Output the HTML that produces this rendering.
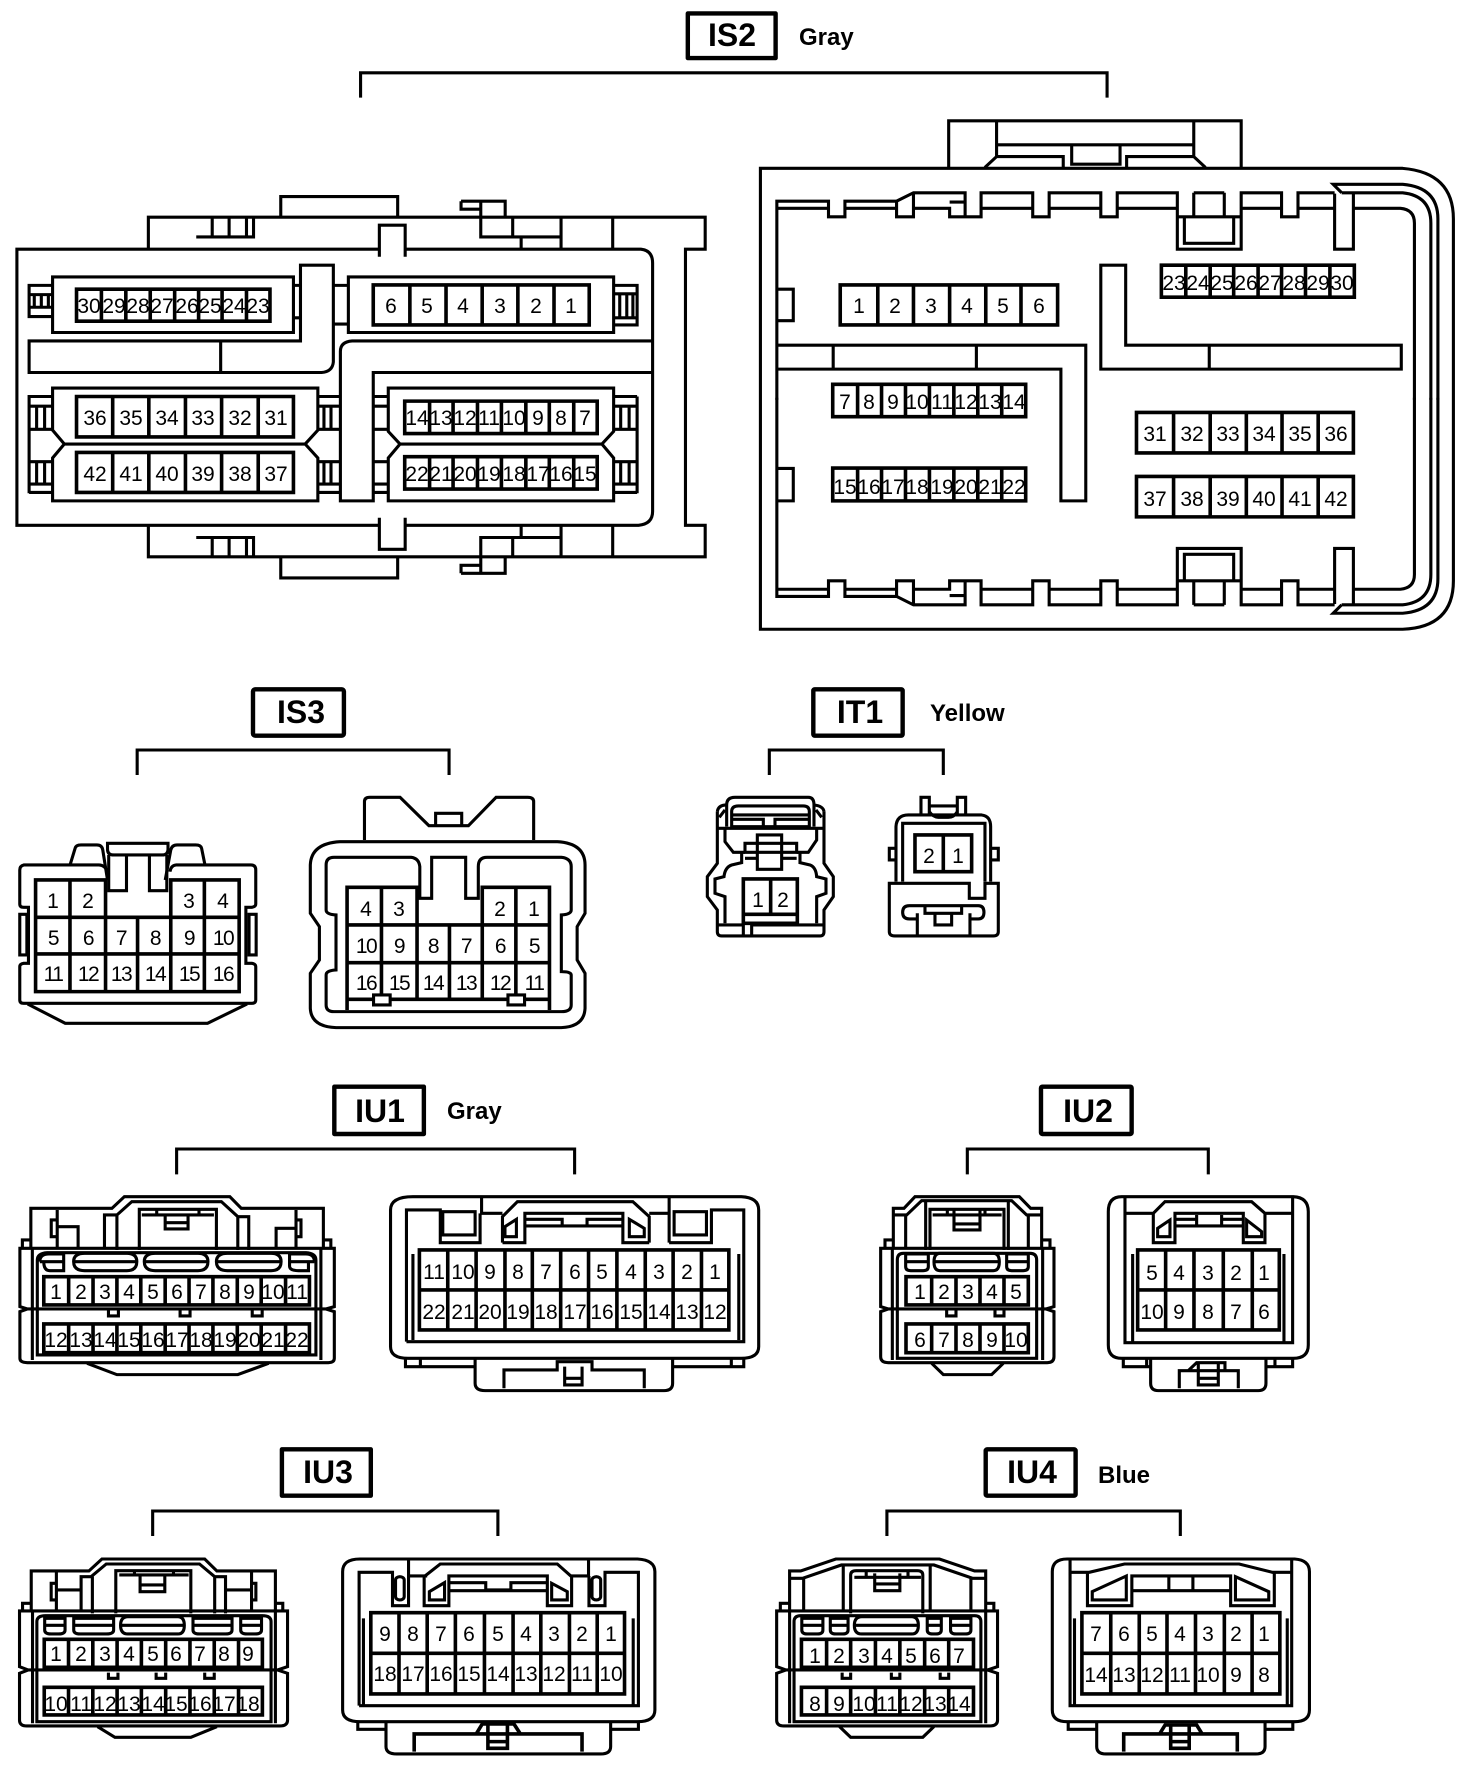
<!DOCTYPE html>
<html><head><meta charset="utf-8"><title>Connector diagram</title>
<style>
html,body{margin:0;padding:0;background:#fff}
svg{display:block}
path,rect{fill:none;stroke:#000;stroke-width:3.1;stroke-linejoin:miter;vector-effect:non-scaling-stroke}
.g{stroke-width:3.6}
.b{stroke-width:4.4;stroke-linejoin:round}
.t{font:21px "Liberation Sans",sans-serif;text-anchor:middle;fill:#000}
.n{letter-spacing:-1.5px}
.h{font:bold 32px "Liberation Sans",sans-serif;text-anchor:middle;fill:#000}
.c{font:bold 24px "Liberation Sans",sans-serif;fill:#000}
</style></head><body>
<svg xmlns="http://www.w3.org/2000/svg" width="1472" height="1766" viewBox="0 0 1472 1766">
<rect width="1472" height="1766" style="fill:#fff;stroke:none"/>

<!-- IS2 left -->
<g transform="scale(0.4695 0.4209)">
<rect class="b" x="1465" y="32" width="187" height="106"/>
<path d="M768 232V173H2358V232"/>
<path d="M808 592H36V1248H808M863 1248H1360Q1390 1245 1390 1215V625Q1390 595 1365 592H863"/>
<path d="M316 592V516H1502V592H1460V1248H1502V1323H316V1248"/>
<g id="l1"><path d="M598 516V467H847V516M418 563H540V516M452 516V563M488 516V563M525 516V563M808 610V535H863V610M982 478H1076V516M982 478V497H1024V563H1195V516M1195 563V592M1110 563V592M1092 516V563M1024 478V497"/></g>
<use href="#l1" transform="matrix(1 0 0 -1 0 1840)"/>
<path d="M1305 516V592M1305 1248V1323"/>
<rect x="112" y="658" width="513" height="132"/>
<path d="M112 678H62V752H112M62 700H112M62 730H112M73 700V730M88 700V730M103 700V730M625 678H640M625 755H640"/>
<path d="M62 810H640V630H710V860Q708 883 685 885H62ZM470 810V885"/>
<rect x="742" y="658" width="565" height="132"/>
<path d="M710 678H742M710 770H742M1307 678H1357V772H1307M1307 698H1357M1307 755H1357M1320 698V755M1335 698V755M1348 698V755"/>
<path d="M1390 810H750Q725 812 725 835V1190H795V885H1390"/>
<path d="M112 922H677V1022L650 1055L677 1088V1190H112V1088L137 1055L112 1022ZM137 1055H650"/>
<path d="M62 1172V942H112M62 965H112M62 1020H112M62 1097H112M62 1150H112M62 1170H112M78 965V1020M95 965V1020M78 1097V1150M95 1097V1150M677 942H725M677 965H725M677 1020H725M677 1097H725M677 1150H725M677 1170H725M690 965V1020M705 965V1020M690 1097V1150M705 1097V1150"/>
<path d="M827 922H1307V1025L1282 1055L1307 1088V1190H827V1088L852 1055L827 1025ZM852 1055H1282"/>
<path d="M795 942H827M795 965H827M795 1020H827M795 1097H827M795 1150H827M795 1170H827M1357 942V1172M1307 942H1357M1307 965H1357M1307 1020H1357M1307 1097H1357M1307 1150H1357M1307 1170H1357M1322 965V1020M1340 965V1020M1322 1097V1150M1340 1097V1150"/>
<path class="g" d="M163 687H575V763H163ZM216 687V763M268 687V763M320 687V763M372 687V763M423 687V763M473 687V763M525 687V763"/>
<path class="g" d="M795 677H1255V772H795ZM873 677V772M950 677V772M1027 677V772M1103 677V772M1180 677V772"/>
<path class="g" d="M163 942H625V1038H163ZM240 942V1038M317 942V1038M395 942V1038M472 942V1038M550 942V1038"/>
<path class="g" d="M163 1075H625V1170H163ZM240 1075V1170M317 1075V1170M395 1075V1170M472 1075V1170M550 1075V1170"/>
<path class="g" d="M862 953H1272V1030H862ZM915 953V1030M965 953V1030M1017 953V1030M1068 953V1030M1120 953V1030M1170 953V1030M1222 953V1030"/>
<path class="g" d="M862 1085H1272V1162H862ZM915 1085V1162M965 1085V1162M1017 1085V1162M1068 1085V1162M1120 1085V1162M1170 1085V1162M1222 1085V1162"/>
</g>

<!-- IS2 right -->
<g transform="translate(736 0) scale(0.4695 0.4209)">
<path d="M453 398V287H1076V398M555 287V372L530 398M975 287V372L1000 398M555 344H975M555 372H697V398M832 398V372H975M715 347V390H818V347"/>
<path d="M52 400H1420Q1528 410 1528 520V1380Q1528 1490 1420 1495H52Z"/>
<g id="r1"><path d="M87 950V478H197V515H232V478H342L378 458H488V515H522V458H632V515H667V458H777V515H812V458H940V592H1076V458H1162V515H1197V458H1275M342 478V515H378V458M87 495H197M232 495H342M378 495H455V515H488M455 480H488M522 495H632M667 495H777M812 495H940M940 515H1076M975 458H1040M975 458V515M1040 458V515M955 515V578H1060V515M1076 495H1162M1197 495H1275M1275 460V592H1315V460M1290 458L1272 438H1420Q1495 445 1495 520V950M1290 458H1420Q1480 465 1480 530V950M1315 495H1415Q1445 498 1445 530V950"/></g>
<use href="#r1" transform="matrix(1 0 0 -1 0 1895)"/>
<path d="M87 687H122V762H87M87 1113H122V1190H87"/>
<path d="M87 820H745V1190H692V877H87M207 820V877M512 820V877"/>
<path d="M777 630H830V820H1417V877H777ZM1008 820V877"/>
<path class="g" d="M222 677H685V772H222ZM302 677V772M378 677V772M455 677V772M532 677V772M607 677V772"/>
<path class="g" d="M906 630H1317V706H906ZM958 630V706M1010 630V706M1060 630V706M1112 630V706M1162 630V706M1213 630V706M1265 630V706"/>
<path class="g" d="M206 913H617V990H206ZM259 913V990M310 913V990M361 913V990M412 913V990M464 913V990M515 913V990M566 913V990"/>
<path class="g" d="M206 1112H617V1190H206ZM259 1112V1190M310 1112V1190M361 1112V1190M412 1112V1190M464 1112V1190M515 1112V1190M566 1112V1190"/>
<path class="g" d="M853 980H1315V1076H853ZM932 980V1076M1010 980V1076M1087 980V1076M1163 980V1076M1240 980V1076"/>
<path class="g" d="M853 1132H1315V1228H853ZM932 1132V1228M1010 1132V1228M1087 1132V1228M1163 1132V1228M1240 1132V1228"/>
</g>

<!-- IS3 -->
<g transform="translate(0 680) scale(0.3953 0.3333)">
<rect class="b" x="640" y="28" width="230" height="139" rx="6"/>
<path d="M347 285V210H1136V285"/>
<path d="M272 575Q265 555 250 555H60Q50 558 50 570V672Q50 682 60 682H72V850H60Q50 852 50 860V960Q50 970 60 970H637Q647 970 647 960V860Q647 852 637 850H622V682H637Q647 680 647 672V570Q647 555 635 555H445Q432 557 430 575"/>
<path d="M50 703H68V825H50ZM630 703H648V825H630Z"/>
<path d="M178 552L190 505Q192 495 205 495H245Q258 495 260 510L272 600M418 600L432 510Q435 495 448 495H495Q508 495 510 505L518 552"/>
<path d="M272 490H425V508Q425 525 410 525H288Q272 525 272 508ZM275 525V632H320V525M378 525V632H422V525"/>
<path class="g" d="M90 600H267V712H432V600H605V935H90ZM177 600V935M267 712V935M348 712V935M432 712V935M517 600V935M90 712H605M90 822H605"/>
<path d="M70 972L165 1030H525L625 972"/>
<path d="M922 480V365Q922 352 935 352H1012L1085 437H1185L1255 352H1335Q1350 352 1350 365V480M1102 437V400H1168V437"/>
<path d="M860 485H1410Q1480 490 1480 555V700L1460 740V840L1480 880V985Q1478 1040 1420 1043H850Q787 1040 785 985V880L808 840V740L785 700V555Q787 490 860 485Z"/>
<path d="M845 532H1040Q1060 535 1062 560V655H1092V532H1178V655H1210V560Q1210 532 1232 532H1420Q1445 535 1445 560V690Q1445 703 1420 705V875Q1445 875 1445 885V975Q1445 995 1420 995H845Q825 995 825 975V885Q825 872 850 870V705Q825 703 825 690V555Q825 532 845 532Z"/>
<path class="g" d="M878 990V622H1055V735H1220V622H1390V990M965 622V958M1055 735V958M1137 735V958M1220 735V958M1305 622V958M878 735H1390M878 848H1390M878 958H1390"/>
<rect x="945" y="945" width="42" height="30" style="fill:#fff"/>
<rect x="1285" y="945" width="42" height="30" style="fill:#fff"/>
</g>

<!-- IT1 -->
<g transform="translate(680 680) scale(0.3333 0.3333)">
<rect class="b" x="400" y="28" width="268" height="139" rx="4"/>
<path d="M268 285V210H790V285"/>
<path d="M140 375Q140 352 165 352H385Q402 352 402 375M112 395Q115 375 140 375M402 375Q430 378 432 395M140 375V440M402 375V440M118 412L135 390M425 412L408 390"/>
<path d="M175 378H370Q388 378 388 395V440H155V395Q155 378 175 378ZM155 405H388M155 418H250V438M285 438V418H388"/>
<path d="M112 395V550L82 590V650L112 690V755Q112 768 125 768H420Q432 768 432 755V690L460 650V590L432 550V395M112 445H432"/>
<path d="M135 445V485L160 517H195M410 445V480L385 517H350"/>
<path d="M195 517V490H350V517ZM232 465H305V568H232ZM195 535H232M305 535H350M185 517V548L155 555Q135 562 132 590L105 597V640L135 650V730M360 517V548L390 555Q408 562 410 590L438 597V640L410 650V730"/>
<path class="g" d="M190 597H352V730H190ZM272 597V703M190 703H352"/>
<path d="M112 735H190M352 735H432M190 730V768M215 768V735H352"/>
<path d="M723 405V352H748V405M832 405V352H857V405M748 378H832M748 395Q760 412 775 412H805Q822 412 832 395"/>
<path d="M648 605V440Q650 405 685 405H905Q932 408 932 440V605M668 605V430H915V605M648 505H628V540H648M932 505H955V540H932"/>
<path class="g" d="M705 465H875V575H705ZM790 465V575"/>
<path d="M628 610H868V655H915V610H955V755Q955 768 940 768H645Q628 768 628 755Z"/>
<path d="M710 717H688Q668 717 668 697Q668 677 688 677H895Q912 677 912 697Q912 717 895 717H870M735 680V700H845V680M712 700V768M870 700V768M765 700V735H815V700"/>
</g>

<!-- IU1 -->
<g transform="translate(0 1080) scale(0.4975 0.3333)">
<rect class="b" x="672" y="20" width="180" height="142"/>
<path d="M355 283V207H1155V283"/>
<path d="M40 505V680L55 687L40 695V835Q40 848 55 848H660Q672 848 672 835V695L655 687L672 680V505ZM55 687H655M65 505V840M645 505V840"/>
<path d="M95 518H615Q635 520 635 540V825H75V540Q75 520 95 518Z"/>
<path d="M62 505V385H225L250 350H462L485 385H650V505M210 505V405H235L265 365H445L478 410H500V510M235 405V510M478 410V510M280 510V388H435V510M285 405H430M315 388V405M400 388V405M332 405V447H378V405M332 428H378"/>
<path d="M115 390V505M115 440H157V505M115 420H103V470H115M595 390V505M555 505V445H595M595 420H605V470H595M45 505V480H62M650 480H665V505"/>
<path d="M80 545Q80 522 98 522H128V572H100Q88 572 88 545M148 545Q148 520 170 520H255Q275 520 275 545Q275 572 255 572H170Q148 572 148 545ZM290 545Q290 520 312 520H398Q418 520 418 545Q418 572 398 572H312Q290 572 290 545ZM435 545Q435 520 457 520H545Q565 520 565 545Q565 572 545 572H457Q435 572 435 545ZM582 522H615Q632 522 632 545M582 522V558Q582 572 600 572H620V545M80 545H128M148 545H275M290 545H418M435 545H565M582 545H632"/>
<path class="g" d="M88 590H622V675H88ZM138 590V675M187 590V675M235 590V675M283 590V675M332 590V675M380 590V675M428 590V675M477 590V675M525 590V675M574 590V675"/>
<path class="g" d="M88 732H622V818H88ZM138 732V818M187 732V818M235 732V818M283 732V818M332 732V818M380 732V818M428 732V818M477 732V818M525 732V818M574 732V818"/>
<path d="M218 690V708H238V690M362 690V708H382V690M507 690V708H527V690M175 850L235 884H478L540 850"/>
<path d="M830 350H1490Q1525 352 1525 390V800Q1525 835 1490 835H820Q785 835 785 800V390Q785 350 830 350Z"/>
<path d="M817 785V390H885V488H965V400M1010 488H1055V400H1252V488H1305M1345 488H1430V390H1495V785H817M968 350V400H1010M1345 350V400H1305M1345 400V488M1010 488V410L1040 365H1272L1305 410V488"/>
<rect x="890" y="395" width="65" height="70"/><rect x="1355" y="395" width="65" height="70"/>
<path d="M1055 418H1130V438H1180V418H1252M1055 438H1252M1015 470V440L1038 418V470ZM1265 470V418L1295 445V470Z"/>
<path class="g" d="M843 510H1465V750H843ZM843 630H1465M900 510V750M957 510V750M1015 510V750M1070 510V750M1127 510V750M1183 510V750M1240 510V750M1297 510V750M1353 510V750M1410 510V750"/>
<path d="M830 522V780M1485 522V780M815 835V860H955M845 835V860M1495 835V860H1352M1470 835V860"/>
<path d="M955 835V910Q955 932 975 932H1335Q1352 932 1352 910V835M1013 925V870H1120V845H1190V870H1295V925M1135 860V915H1170V860M1135 895H1170"/>
</g>

<!-- IU2 -->
<g transform="translate(860 1080) scale(0.3333 0.3333)">
<rect class="b" x="543" y="20" width="272" height="142" rx="4"/>
<path d="M322 283V207H1045V283"/>
<path d="M62 505V680L85 687L62 695V830Q62 848 85 848H562Q582 848 582 830V695L558 687L582 680V505ZM85 687H558M97 505V840M548 505V840"/>
<path d="M130 520H510Q530 520 530 540V835H112V540Q112 520 130 520Z"/>
<path d="M100 505V385H132L165 350H478L512 385H545V505M100 405H140L185 362H455L500 405H545M137 405V505M505 405V505M197 362V510M210 510V388H432V510M445 362V510M218 405H425M262 388V405M375 388V405M282 388V450H360V388M282 432H360M75 505V480H97M548 480H570V505"/>
<path d="M137 522H205V560Q205 572 190 572H152Q137 572 137 560ZM240 520H400Q418 520 418 546Q418 572 400 572H240Q222 572 222 546Q222 520 240 520ZM440 522H505V560Q505 572 490 572H455Q440 572 440 560ZM137 545H205M222 545H418M440 545H505"/>
<path class="g" d="M138 590H505V675H138ZM215 590V675M288 590V675M360 590V675M432 590V675"/>
<path class="g" d="M138 732H505V818H138ZM215 732V818M288 732V818M360 732V818M432 732V818"/>
<path d="M260 690V708H288V690M405 690V708H432V690M215 850L250 884H395L430 850"/>
<path d="M785 350H1300Q1345 352 1345 395V795Q1345 835 1300 835H785Q745 835 745 795V395Q745 350 785 350Z"/>
<path d="M795 350V788H1298V350M795 400H880L915 365H1175L1215 400H1298M880 400V488H945V400H1150V488H1215V400M945 418H1010V438H1085V418H1150M945 438H1150M1010 405V418M1085 405V418"/>
<path d="M893 470V445L930 420V470ZM1160 470V420L1205 455V470Z"/>
<path class="g" d="M833 510H1258V750H833ZM833 630H1258M917 510V750M1002 510V750M1090 510V750M1177 510V750"/>
<path d="M818 522V785M1272 522V785M790 835V860H872M860 835V860M1298 835V860H1218M1245 835V860"/>
<path d="M872 835V910Q872 932 895 932H1195Q1218 932 1218 910V835M958 925V872H1135V925M985 872L1010 848H1095V872M1015 850V915H1075V850M1015 895H1075"/>
</g>

<!-- IU3 -->
<g transform="translate(0 1440) scale(0.4337 0.3333)">
<rect class="b" x="650" y="28" width="205" height="139"/>
<path d="M352 288V213H1148V288"/>
<path d="M45 513V680L65 690L45 700V840Q45 858 62 858H645Q663 858 663 840V700L640 690L663 680V513ZM65 690H640M75 513V850M635 513V850"/>
<path d="M105 527H605Q625 527 625 545V845H85V545Q85 527 105 527Z"/>
<path d="M72 513V393H205L235 357H472L500 393H635V513M187 515V410H210L245 372H460L495 410H520V520M213 410V520M495 410V520M267 520V392H440V520M275 405H435M310 392V405M400 392V405M323 405V455H380V405M323 435H380"/>
<path d="M130 393V513M130 430H118V480H130M130 450H187M580 393V513M520 450H580M580 430H590V480H580M52 513V490H72M635 490H652V513"/>
<path d="M103 535H150V570Q150 582 135 582H118Q103 582 103 570ZM170 535H262V570Q262 582 245 582H185Q170 582 170 570ZM295 530H410Q425 530 425 556Q425 582 410 582H295Q278 582 278 556Q278 530 295 530ZM445 535H535V570Q535 582 520 582H460Q445 582 445 570ZM555 535H603V570Q603 582 588 582H570Q555 582 555 570ZM103 556H150M170 556H262M278 556H425M445 556H535M555 556H603"/>
<path class="g" d="M102 598H605V682H102ZM158 598V682M214 598V682M270 598V682M326 598V682M382 598V682M438 598V682M494 598V682M550 598V682"/>
<path class="g" d="M102 742H605V825H102ZM158 742V825M214 742V825M270 742V825M326 742V825M382 742V825M438 742V825M494 742V825M550 742V825"/>
<path d="M250 698V715H272V698M360 698V715H382V698M472 698V715H494V698M225 860L265 892H440L500 860"/>
<path d="M830 357H1470Q1510 360 1510 395V810Q1510 845 1470 845H830Q790 845 790 810V395Q790 357 830 357Z"/>
<path d="M828 797V397H905V497H942V360M942 408H985M1357 360V408H1315M1358 408V497H1395V397H1472V797H828"/>
<path d="M978 497V410L1015 372H1285L1318 410V497H1262V408H1035V497ZM1035 428H1120V450H1178V428H1262M1035 452H1262"/>
<path d="M990 480V455L1025 428V480ZM1272 480V430L1308 455V480Z"/>
<rect x="912" y="410" width="20" height="70" rx="10"/><rect x="1365" y="410" width="20" height="70" rx="10"/>
<path class="g" d="M855 518H1440V762H855ZM855 640H1440M920 518V762M985 518V762M1050 518V762M1117 518V762M1183 518V762M1247 518V762M1313 518V762M1377 518V762"/>
<path d="M838 535V795M1460 535V795M825 845V868H890M1472 845V868H1410"/>
<path d="M890 845V920Q890 942 915 942H1385Q1408 942 1408 920V845"/>
<path class="g" d="M955 935V882H1342V935M1098 882L1112 852H1185L1200 882M1125 855V925H1170V855M1125 905H1170"/>
</g>

<!-- IU4 -->
<g transform="translate(760 1440) scale(0.37 0.3333)">
<rect class="b" x="610" y="28" width="243" height="139" rx="4"/>
<path d="M343 288V213H1136V288"/>
<path d="M45 513V680L70 690L45 700V840Q45 858 65 858H620Q642 858 642 840V700L615 690L642 680V513ZM70 690H615M80 513V850M610 513V850"/>
<path d="M110 527H580Q597 527 597 545V845H92V545Q92 527 110 527Z"/>
<path d="M80 513V393H110L205 357H485L580 393H610V513M80 415H115L220 375H470L575 415H610M118 415V513M570 415V513M225 375V515M460 375V515M245 520V405Q245 392 260 392H425Q440 392 440 405V520M255 412H435M310 400V452H378V400M310 432H378M287 395V412M400 395V412M55 513V490H80M610 490H632V513"/>
<path d="M113 535H170V570Q170 582 155 582H128Q113 582 113 570ZM190 535H238V570Q238 582 223 582H205Q190 582 190 570ZM275 530H410Q428 530 428 556Q428 582 410 582H275Q255 582 255 556Q255 530 275 530ZM452 535H490V570Q490 582 475 582H467Q452 582 452 570ZM515 535H570V570Q570 582 555 582H530Q515 582 515 570ZM113 556H170M190 556H238M255 556H428M452 556H490M515 556H570"/>
<path class="g" d="M112 598H577V682H112ZM180 598V682M245 598V682M312 598V682M378 598V682M445 598V682M510 598V682"/>
<path class="g" d="M112 742H577V825H112ZM180 742V825M245 742V825M312 742V825M378 742V825M445 742V825M510 742V825"/>
<path d="M222 698V715H245V698M355 698V715H378V698M487 698V715H510V698M215 860L245 892H440L470 860"/>
<path d="M830 357H1445Q1485 360 1485 395V810Q1485 845 1445 845H830Q790 845 790 810V395Q790 357 830 357Z"/>
<path d="M838 357V797H1437V357M838 397H890L985 372H1295L1385 397H1437M885 397V497H1005V408H1272V497H1390V397M1005 452H1272M1105 408V452M1170 408V452"/>
<path d="M898 480V455L990 408V480ZM1285 480V410L1375 455V480Z"/>
<path class="g" d="M870 518H1405V762H870ZM870 640H1405M948 518V762M1025 518V762M1100 518V762M1177 518V762M1255 518V762M1330 518V762"/>
<path d="M850 535V795M1425 535V795M833 845V868H910M1440 845V868H1362"/>
<path d="M910 845V920Q910 942 935 942H1340Q1365 942 1365 920V845"/>
<path class="g" d="M983 935V882H1290V935M1080 882L1095 855H1180L1195 882M1110 855V925H1160V855M1110 905H1160"/>
</g>

<!-- headings -->
<text class="h" x="732" y="46">IS2</text><text class="c" x="799" y="45">Gray</text>
<text class="h" x="301" y="723">IS3</text>
<text class="h" x="860" y="723">IT1</text><text class="c" x="930" y="721">Yellow</text>
<text class="h" x="380" y="1122">IU1</text><text class="c" x="447" y="1119">Gray</text>
<text class="h" x="1088" y="1122">IU2</text>
<text class="h" x="328" y="1483">IU3</text>
<text class="h" x="1032" y="1483">IU4</text><text class="c" x="1098" y="1483">Blue</text>

<!-- pin numbers -->
<g class="t">
<text y="313"><tspan x="89">30</tspan><tspan x="114">29</tspan><tspan x="138">28</tspan><tspan x="162">27</tspan><tspan x="187">26</tspan><tspan x="210">25</tspan><tspan x="234">24</tspan><tspan x="258">23</tspan></text>
<text y="313"><tspan x="391">6</tspan><tspan x="427">5</tspan><tspan x="463">4</tspan><tspan x="500">3</tspan><tspan x="536">2</tspan><tspan x="571">1</tspan></text>
<text y="425"><tspan x="95">36</tspan><tspan x="131">35</tspan><tspan x="167">34</tspan><tspan x="203">33</tspan><tspan x="240">32</tspan><tspan x="276">31</tspan></text>
<text y="481"><tspan x="95">42</tspan><tspan x="131">41</tspan><tspan x="167">40</tspan><tspan x="203">39</tspan><tspan x="240">38</tspan><tspan x="276">37</tspan></text>
<text y="425"><tspan x="417">14</tspan><tspan x="441">13</tspan><tspan x="465">12</tspan><tspan x="489">11</tspan><tspan x="514">10</tspan><tspan x="538">9</tspan><tspan x="561">8</tspan><tspan x="585">7</tspan></text>
<text y="481"><tspan x="417">22</tspan><tspan x="441">21</tspan><tspan x="465">20</tspan><tspan x="489">19</tspan><tspan x="514">18</tspan><tspan x="538">17</tspan><tspan x="561">16</tspan><tspan x="585">15</tspan></text>

<text y="313"><tspan x="859">1</tspan><tspan x="895">2</tspan><tspan x="931">3</tspan><tspan x="967">4</tspan><tspan x="1003">5</tspan><tspan x="1039">6</tspan></text>
<text y="290"><tspan x="1174">23</tspan><tspan x="1198">24</tspan><tspan x="1222">25</tspan><tspan x="1246">26</tspan><tspan x="1270">27</tspan><tspan x="1294">28</tspan><tspan x="1318">29</tspan><tspan x="1342">30</tspan></text>
<text y="409"><tspan x="845">7</tspan><tspan x="869">8</tspan><tspan x="893">9</tspan><tspan x="917">10</tspan><tspan x="942">11</tspan><tspan x="966">12</tspan><tspan x="990">13</tspan><tspan x="1014">14</tspan></text>
<text y="494"><tspan x="845">15</tspan><tspan x="869">16</tspan><tspan x="893">17</tspan><tspan x="917">18</tspan><tspan x="942">19</tspan><tspan x="966">20</tspan><tspan x="990">21</tspan><tspan x="1014">22</tspan></text>
<text y="441"><tspan x="1155">31</tspan><tspan x="1192">32</tspan><tspan x="1228">33</tspan><tspan x="1264">34</tspan><tspan x="1300">35</tspan><tspan x="1336">36</tspan></text>
<text y="506"><tspan x="1155">37</tspan><tspan x="1192">38</tspan><tspan x="1228">39</tspan><tspan x="1264">40</tspan><tspan x="1300">41</tspan><tspan x="1336">42</tspan></text>

<text y="908"><tspan x="53">1</tspan><tspan x="88">2</tspan><tspan x="189">3</tspan><tspan x="223">4</tspan></text>
<text y="945" class="n"><tspan x="53">5</tspan><tspan x="88">6</tspan><tspan x="121">7</tspan><tspan x="155">8</tspan><tspan x="189">9</tspan><tspan x="223">10</tspan></text>
<text y="981" class="n"><tspan x="53">11</tspan><tspan x="88">12</tspan><tspan x="121">13</tspan><tspan x="155">14</tspan><tspan x="189">15</tspan><tspan x="223">16</tspan></text>
<text y="916"><tspan x="366">4</tspan><tspan x="399">3</tspan><tspan x="500">2</tspan><tspan x="534">1</tspan></text>
<text y="953" class="n"><tspan x="366">10</tspan><tspan x="399">9</tspan><tspan x="433">8</tspan><tspan x="466">7</tspan><tspan x="500">6</tspan><tspan x="534">5</tspan></text>
<text y="990" class="n"><tspan x="366">16</tspan><tspan x="399">15</tspan><tspan x="433">14</tspan><tspan x="466">13</tspan><tspan x="500">12</tspan><tspan x="534">11</tspan></text>

<text y="907"><tspan x="758">1</tspan><tspan x="783">2</tspan></text>
<text y="863"><tspan x="929">2</tspan><tspan x="958">1</tspan></text>

<text y="1299"><tspan x="56">1</tspan><tspan x="81">2</tspan><tspan x="105">3</tspan><tspan x="129">4</tspan><tspan x="153">5</tspan><tspan x="177">6</tspan><tspan x="201">7</tspan><tspan x="225">8</tspan><tspan x="249">9</tspan><tspan x="273">10</tspan><tspan x="297">11</tspan></text>
<text y="1347"><tspan x="56">12</tspan><tspan x="81">13</tspan><tspan x="105">14</tspan><tspan x="129">15</tspan><tspan x="153">16</tspan><tspan x="177">17</tspan><tspan x="201">18</tspan><tspan x="225">19</tspan><tspan x="249">20</tspan><tspan x="273">21</tspan><tspan x="297">22</tspan></text>
<text y="1279"><tspan x="434">11</tspan><tspan x="463">10</tspan><tspan x="490">9</tspan><tspan x="518">8</tspan><tspan x="546">7</tspan><tspan x="575">6</tspan><tspan x="602">5</tspan><tspan x="631">4</tspan><tspan x="659">3</tspan><tspan x="687">2</tspan><tspan x="715">1</tspan></text>
<text y="1319"><tspan x="434">22</tspan><tspan x="463">21</tspan><tspan x="490">20</tspan><tspan x="518">19</tspan><tspan x="546">18</tspan><tspan x="575">17</tspan><tspan x="602">16</tspan><tspan x="631">15</tspan><tspan x="659">14</tspan><tspan x="687">13</tspan><tspan x="715">12</tspan></text>

<text y="1299"><tspan x="920">1</tspan><tspan x="944">2</tspan><tspan x="968">3</tspan><tspan x="992">4</tspan><tspan x="1016">5</tspan></text>
<text y="1347"><tspan x="920">6</tspan><tspan x="944">7</tspan><tspan x="968">8</tspan><tspan x="992">9</tspan><tspan x="1016">10</tspan></text>
<text y="1280"><tspan x="1152">5</tspan><tspan x="1179">4</tspan><tspan x="1208">3</tspan><tspan x="1236">2</tspan><tspan x="1264">1</tspan></text>
<text y="1319"><tspan x="1152">10</tspan><tspan x="1179">9</tspan><tspan x="1208">8</tspan><tspan x="1236">7</tspan><tspan x="1264">6</tspan></text>

<text y="1661"><tspan x="56">1</tspan><tspan x="81">2</tspan><tspan x="105">3</tspan><tspan x="129">4</tspan><tspan x="153">5</tspan><tspan x="176">6</tspan><tspan x="200">7</tspan><tspan x="224">8</tspan><tspan x="248">9</tspan></text>
<text y="1711"><tspan x="56">10</tspan><tspan x="81">11</tspan><tspan x="105">12</tspan><tspan x="129">13</tspan><tspan x="153">14</tspan><tspan x="176">15</tspan><tspan x="200">16</tspan><tspan x="224">17</tspan><tspan x="248">18</tspan></text>
<text y="1641"><tspan x="385">9</tspan><tspan x="413">8</tspan><tspan x="441">7</tspan><tspan x="469">6</tspan><tspan x="498">5</tspan><tspan x="526">4</tspan><tspan x="554">3</tspan><tspan x="582">2</tspan><tspan x="611">1</tspan></text>
<text y="1681"><tspan x="385">18</tspan><tspan x="413">17</tspan><tspan x="441">16</tspan><tspan x="469">15</tspan><tspan x="498">14</tspan><tspan x="526">13</tspan><tspan x="554">12</tspan><tspan x="582">11</tspan><tspan x="611">10</tspan></text>

<text y="1663"><tspan x="815">1</tspan><tspan x="839">2</tspan><tspan x="864">3</tspan><tspan x="887">4</tspan><tspan x="911">5</tspan><tspan x="935">6</tspan><tspan x="959">7</tspan></text>
<text y="1711"><tspan x="815">8</tspan><tspan x="839">9</tspan><tspan x="864">10</tspan><tspan x="887">11</tspan><tspan x="911">12</tspan><tspan x="935">13</tspan><tspan x="959">14</tspan></text>
<text y="1641"><tspan x="1096">7</tspan><tspan x="1124">6</tspan><tspan x="1152">5</tspan><tspan x="1180">4</tspan><tspan x="1208">3</tspan><tspan x="1236">2</tspan><tspan x="1264">1</tspan></text>
<text y="1682"><tspan x="1096">14</tspan><tspan x="1124">13</tspan><tspan x="1152">12</tspan><tspan x="1180">11</tspan><tspan x="1208">10</tspan><tspan x="1236">9</tspan><tspan x="1264">8</tspan></text>
</g>
</svg>
</body></html>
